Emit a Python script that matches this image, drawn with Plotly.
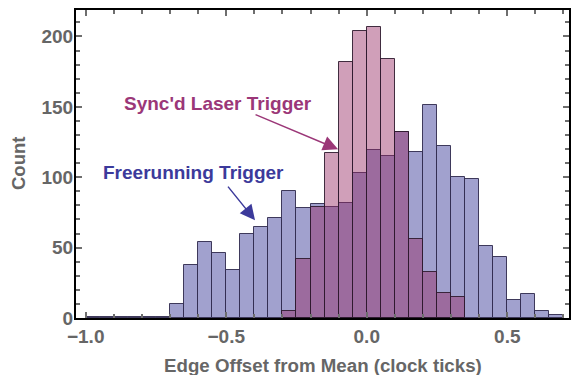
import plotly.graph_objects as go

# Bin left edges (bin width 0.05, clock ticks)
bin_width = 0.05
free_bins = [-1.00, -0.95, -0.90, -0.85, -0.80, -0.75, -0.70, -0.65, -0.60, -0.55,
             -0.50, -0.45, -0.40, -0.35, -0.30, -0.25, -0.20, -0.15, -0.10, -0.05,
             0.00, 0.05, 0.10, 0.15, 0.20, 0.25, 0.30, 0.35, 0.40, 0.45,
             0.50, 0.55, 0.60, 0.65]
free_counts = [1, 1, 1, 1, 1, 1, 10, 38, 54, 46,
               34, 60, 65, 71, 90, 78, 81, 79, 82, 103,
               119, 115, 132, 118, 151, 122, 100, 99, 51, 43,
               13, 17, 5, 2]

sync_bins = [-0.30, -0.25, -0.20, -0.15, -0.10, -0.05, 0.00, 0.05, 0.10, 0.15,
             0.20, 0.25, 0.30]
sync_counts = [5, 42, 79, 117, 182, 204, 207, 184, 132, 56, 33, 18, 15]

x_ticks = [-1.0, -0.5, 0.0, 0.5]
x_tick_text = ["\u22121.0", "\u22120.5", "0.0", "0.5"]
y_ticks = [0, 50, 100, 150, 200]

label_font = "Liberation Sans, Arial, sans-serif"
gray = "rgb(102,102,102)"

fig = go.Figure()
fig.add_trace(go.Bar(
    x=[b + bin_width / 2 for b in free_bins], y=free_counts, width=bin_width,
    marker=dict(color="rgb(161,161,206)", line=dict(color="rgba(45,40,75,0.9)", width=1)),
    name="Freerunning Trigger", showlegend=False))
fig.add_trace(go.Bar(
    x=[b + bin_width / 2 for b in sync_bins], y=sync_counts, width=bin_width,
    marker=dict(color="rgba(150,42,100,0.45)", line=dict(color="rgba(45,25,45,0.9)", width=1)),
    name="Sync'd Laser Trigger", showlegend=False))

fig.add_annotation(x=-0.529, y=152.5, xref="x", yref="y", text="<b>Sync'd Laser Trigger</b>",
                   showarrow=False, font=dict(family=label_font, size=19, color="rgb(155,55,120)"))
fig.add_annotation(x=-0.618, y=103.1, xref="x", yref="y", text="<b>Freerunning Trigger</b>",
                   showarrow=False, font=dict(family=label_font, size=19, color="rgb(60,58,155)"))
fig.add_annotation(x=-0.102, y=119.9, ax=-0.401, ay=144.9, xref="x", yref="y", axref="x", ayref="y",
                   text="", showarrow=True, arrowhead=2, arrowsize=2, arrowwidth=1.5,
                   arrowcolor="rgb(155,55,120)")
fig.add_annotation(x=-0.3975, y=69.5, ax=-0.498, ay=94.4, xref="x", yref="y", axref="x", ayref="y",
                   text="", showarrow=True, arrowhead=2, arrowsize=2, arrowwidth=1.5,
                   arrowcolor="rgb(60,58,155)")

# axis titles as paper annotations
fig.add_annotation(x=0.5, y=0, xref="paper", yref="paper", yanchor="middle", yshift=-47,
                   text="<b>Edge Offset from Mean (clock ticks)</b>", showarrow=False,
                   font=dict(family=label_font, size=18.7, color=gray))
fig.add_annotation(x=0, y=0.5, xref="paper", yref="paper", xanchor="center", xshift=-58,
                   text="<b>Count</b>", textangle=-90, showarrow=False,
                   font=dict(family=label_font, size=18.5, color=gray))

fig.update_layout(
    barmode="overlay", bargap=0,
    width=574, height=375,
    margin=dict(l=76, r=5, t=10, b=57, autoexpand=False),
    plot_bgcolor="white", paper_bgcolor="white",
    font=dict(family=label_font, size=18, color=gray),
)
fig.update_xaxes(
    automargin=False,
    range=[-1.0345, 0.7196], tickvals=x_ticks, ticktext=[f"<b>{t}</b>" for t in x_tick_text],
    showgrid=False, zeroline=False, showline=True, linecolor="black", linewidth=2, mirror="ticks",
    ticks="inside", ticklen=6, tickwidth=1.5, tickcolor="rgb(110,110,110)",
    minor=dict(dtick=0.1, tick0=0, ticks="inside", ticklen=4, tickwidth=1.5, tickcolor="rgb(110,110,110)"),
    tickfont=dict(size=19, color=gray),
)
fig.update_yaxes(
    automargin=False,
    range=[0, 218.8], tickvals=y_ticks, ticktext=[f"<b>{t}</b>" for t in y_ticks],
    showgrid=False, zeroline=False, showline=True, linecolor="black", linewidth=2, mirror="ticks",
    ticks="inside", ticklen=6, tickwidth=1.5, tickcolor="rgb(110,110,110)",
    minor=dict(dtick=10, tick0=0, ticks="inside", ticklen=4, tickwidth=1.5, tickcolor="rgb(110,110,110)"),
    tickfont=dict(size=19, color=gray), ticklabelstandoff=-3,
)

fig.write_html("out.html", config={"displayModeBar": False})

# remove the browser's default body margin so the figure sits at the page origin
with open("out.html", "r", encoding="utf-8") as f:
    html = f.read()
html = html.replace("<head>", "<head><style>html,body{margin:0;padding:0;overflow:hidden}</style>", 1)
with open("out.html", "w", encoding="utf-8") as f:
    f.write(html)
